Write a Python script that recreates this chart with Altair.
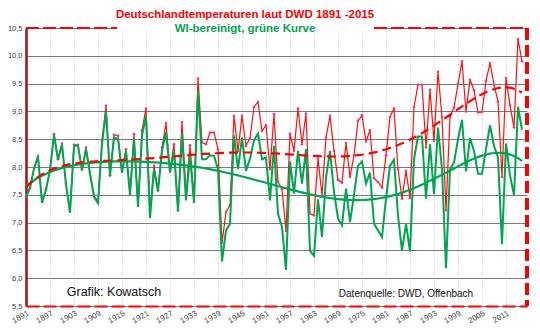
import altair as alt
import pandas as pd

start_year = 1891

# DWD annual mean temperature Germany (red)
dwd = [
    7.47, 7.64, 7.98, 8.20, 7.37, 7.60, 7.95, 8.59, 8.14, 8.42,
    7.70, 7.20, 8.40, 8.40, 7.96, 8.35, 7.90, 7.49, 7.37, 8.47,
    9.10, 7.85, 8.58, 8.56, 7.92, 8.32, 7.52, 8.59, 7.30, 8.66,
    9.05, 7.19, 8.02, 7.58, 8.35, 8.79, 7.93, 8.41, 7.22, 8.81,
    7.49, 8.39, 7.37, 9.59, 8.44, 8.41, 8.62, 8.62, 8.32, 6.64,
    7.19, 7.31, 8.92, 8.29, 8.92, 8.38, 8.52, 9.08, 9.17, 8.65,
    8.75, 7.96, 8.95, 7.73, 7.60, 6.85, 8.60, 8.29, 9.05, 8.41,
    8.96, 7.16, 7.13, 8.15, 7.49, 8.53, 8.92, 8.29, 7.77, 7.72,
    8.43, 7.82, 8.21, 8.83, 8.93, 8.46, 8.66, 7.80, 7.73, 7.63,
    8.21, 8.90, 9.05, 7.96, 7.43, 7.93, 7.44, 9.08, 9.48, 9.48,
    8.35, 9.39, 8.47, 9.71, 8.90, 7.22, 8.90, 9.07, 9.49, 9.90,
    9.00, 9.57, 9.38, 8.98, 8.99, 9.55, 9.87, 9.48, 9.18, 7.82,
    9.60, 9.11, 8.71, 10.30, 9.90,
]

# WI-bereinigt (green)
wi = [
    7.46, 7.62, 7.97, 8.19, 7.36, 7.59, 7.94, 8.58, 8.13, 8.40,
    7.68, 7.18, 8.38, 8.38, 7.94, 8.32, 7.88, 7.46, 7.35, 8.42,
    9.00, 7.83, 8.53, 8.50, 7.90, 8.29, 7.50, 8.50, 7.28, 8.56,
    8.92, 7.08, 7.96, 7.56, 8.29, 8.63, 7.90, 8.29, 7.20, 8.60,
    7.40, 8.20, 7.36, 9.36, 8.14, 8.14, 8.21, 8.20, 7.96, 6.30,
    6.86, 6.98, 8.57, 7.96, 8.53, 7.93, 8.15, 8.48, 8.60, 8.14,
    8.17, 7.40, 8.38, 7.16, 6.92, 6.15, 8.10, 7.52, 8.29, 7.70,
    8.32, 6.49, 6.40, 7.42, 6.74, 7.81, 8.29, 7.55, 7.08, 6.95,
    7.61, 7.01, 7.50, 8.02, 8.10, 7.70, 7.90, 6.98, 6.86, 6.74,
    7.43, 8.02, 8.13, 7.13, 6.49, 6.98, 6.48, 8.14, 8.55, 8.55,
    7.43, 8.41, 7.51, 8.71, 7.96, 6.18, 7.96, 8.08, 8.50, 8.85,
    7.92, 8.52, 8.29, 7.88, 7.88, 8.32, 8.75, 8.38, 8.17, 6.61,
    8.42, 7.85, 7.49, 9.08, 8.67,
]

years = [start_year + i for i in range(len(dwd))]
y_ticks = [5.5, 6.0, 6.5, 7.0, 7.5, 8.0, 8.5, 9.0, 9.5, 10.0, 10.5]
x_ticks = [1891, 1897, 1903, 1909, 1915, 1921, 1927, 1933, 1939, 1945,
           1951, 1957, 1963, 1969, 1975, 1981, 1987, 1993, 1999, 2005, 2011]

title1 = "Deutschlandtemperaturen  laut DWD 1891 -2015"
title2 = "WI-bereinigt, grüne Kurve"
note_left = "Grafik: Kowatsch"
note_right = "Datenquelle: DWD, Offenbach"

red_df = pd.DataFrame({"year": years, "value": dwd})
green_df = pd.DataFrame({"year": years, "value": wi})

W, H = 501, 278
FONT = "Liberation Sans"

x_enc = alt.X(
    "year:Q",
    scale=alt.Scale(domain=[1891, 2016.25], nice=False, zero=False),
    axis=alt.Axis(
        values=x_ticks, tickCount=len(x_ticks), format="d", labelAngle=-30,
        labelAlign="right", labelBaseline="top", labelFontSize=8,
        labelColor="#404040", labelFont=FONT, labelPadding=3, ticks=False,
        grid=True, gridColor="#c4c4c4", gridDash=[1, 2], gridWidth=1,
        domainColor="#ff0000", domainDash=[13, 4], domainWidth=2,
        title=None, labelOverlap=False,
    ),
)
y_enc = alt.Y(
    "value:Q",
    scale=alt.Scale(domain=[5.5, 10.5], nice=False, zero=False),
    axis=alt.Axis(
        values=y_ticks, tickCount=len(y_ticks),
        labelExpr="replace(format(datum.value, '.1f'), '.', ',')",
        labelFontSize=7.5, labelColor="#404040", labelFont=FONT,
        labelPadding=4, ticks=False, grid=True, gridColor="#7a7a7a",
        gridWidth=1, domainColor="#a01010", domainWidth=2.5, title=None,
        labelOverlap=False,
    ),
)

red_line = alt.Chart(red_df).mark_line(color="#ff1010", strokeWidth=1.2).encode(x=x_enc, y=y_enc)
red_pts = alt.Chart(red_df).mark_circle(color="#ff3377", size=7, opacity=1).encode(x="year:Q", y="value:Q")
green_line = alt.Chart(green_df).mark_line(color="#00a550", strokeWidth=2).encode(x="year:Q", y="value:Q")

green_trend = alt.Chart(green_df).transform_regression(
    "year", "value", method="poly", order=6
).mark_line(color="#00a550", strokeWidth=2.2).encode(x="year:Q", y="value:Q")

red_trend = alt.Chart(red_df).transform_regression(
    "year", "value", method="poly", order=6
).mark_line(color="#ff0000", strokeWidth=2.2, strokeDash=[9, 5]).encode(x="year:Q", y="value:Q")

# frame pieces (decoration)
top_left = alt.Chart(red_df).mark_rule(color="#ff0000", strokeWidth=2, strokeDash=[13, 4]).encode(
    x=alt.value(0), x2=alt.value(91), y=alt.value(0))
top_right = alt.Chart(red_df).mark_rule(color="#ff0000", strokeWidth=2, strokeDash=[13, 4]).encode(
    x=alt.value(348), x2=alt.value(W), y=alt.value(0))
title_gap = alt.Chart(red_df).mark_rule(color="white", strokeWidth=3).encode(
    x=alt.value(91), x2=alt.value(348), y=alt.value(0))
right_border = alt.Chart(red_df).mark_rule(color="#ff0000", strokeWidth=2.5, strokeDash=[12, 5]).encode(
    x=alt.value(W), y=alt.value(0), y2=alt.value(H))

t1 = alt.Chart(pd.DataFrame({"t": [title1]})).mark_text(
    font=FONT, fontSize=11.5, fontWeight="bold", color="#ff0000", align="center", baseline="middle"
).encode(text="t:N", x=alt.value(219), y=alt.value(-13))
t2 = alt.Chart(pd.DataFrame({"t": [title2]})).mark_text(
    font=FONT, fontSize=11.5, fontWeight="bold", color="#00a550", align="center", baseline="middle"
).encode(text="t:N", x=alt.value(219), y=alt.value(1))

n1 = alt.Chart(pd.DataFrame({"t": [note_left]})).mark_text(
    font=FONT, fontSize=12.5, color="#111111", align="center", baseline="middle"
).encode(text="t:N", x=alt.value(88), y=alt.value(264))
n2 = alt.Chart(pd.DataFrame({"t": [note_right]})).mark_text(
    font=FONT, fontSize=10, color="#111111", align="center", baseline="middle"
).encode(text="t:N", x=alt.value(380), y=alt.value(266))

chart = alt.layer(
    red_line, red_pts, green_line, green_trend, red_trend,
    top_left, top_right, title_gap, right_border, t1, t2, n1, n2,
).properties(
    width=W, height=H,
    padding={"left": 26, "top": 28, "right": 13, "bottom": 27},
    autosize=alt.AutoSizeParams(type="none"),
    background="white",
).configure_view(stroke=None).configure_axis(labelOverlap=False, labelFont=FONT)

chart.save("out.html", embed_options={"renderer": "svg", "actions": False})
